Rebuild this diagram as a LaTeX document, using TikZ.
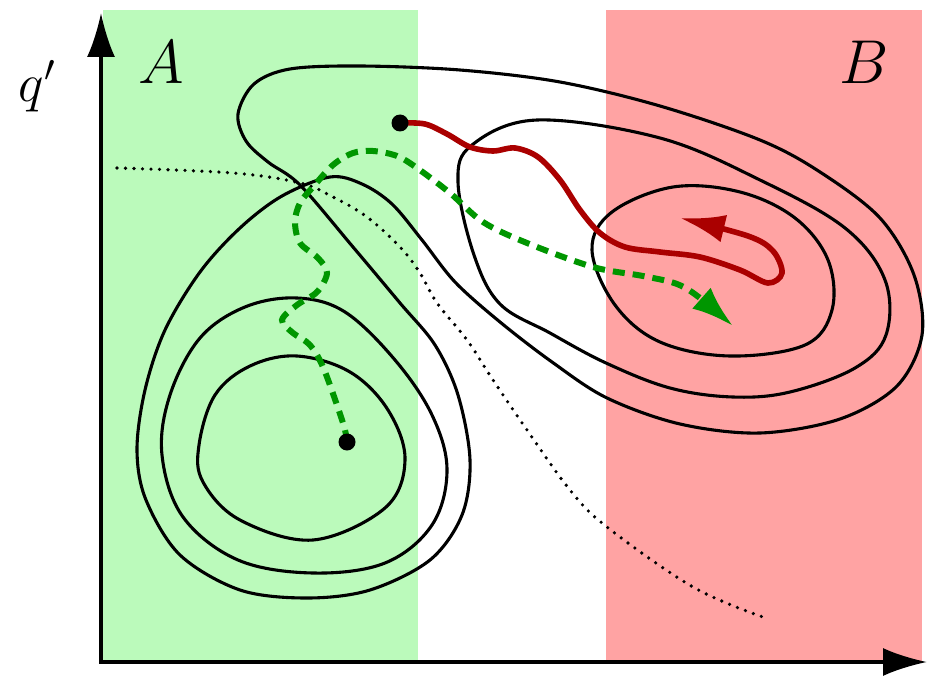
\RequirePackage{fix-cm}
\documentclass[tikz,border=0pt]{standalone}
\usetikzlibrary{arrows.meta}
\definecolor{basingreen}{RGB}{187,250,187}
\definecolor{basinred}{RGB}{255,163,163}
\definecolor{trajred}{RGB}{170,0,0}
\definecolor{trajgreen}{RGB}{0,150,0}
\tikzset{
	level/.style={draw=black, line width=3.1pt, line join=round},
	axis/.style={-{Latex[length=44pt, width=28pt]}, line width=3.2pt},
	separatrix/.style={line width=3.6pt, line cap=round, dash pattern=on 0pt off 8.5pt},
	reactive/.style={-{Latex[length=45pt, width=28pt]}, draw=trajred, line width=5.6pt, line cap=round},
	nonreactive/.style={-{Latex[length=42pt, width=28pt]}, draw=trajgreen, line width=6pt, dash pattern=on 12pt off 8pt},
	endpt/.style={circle, fill=black, inner sep=0pt, minimum size=17pt},
	biglabel/.style={font=\fontsize{62}{70}\selectfont, inner sep=0pt},
}

\begin{document}
\begin{tikzpicture}[x=1pt, y=-1pt]
	\useasboundingbox (0,0) rectangle (928,679);
	% basins A and B
	\fill[basingreen] (103,10) rectangle (418,662);
	\fill[basinred] (606,10) rectangle (922,662);
	% axes
	\coordinate (origin) at (101,663.5);
	\coordinate (ytop) at (101,13);
	\coordinate (xend) at (927,662);
	\draw[axis] (origin) -- (ytop);
	\draw[axis] (99.5,662) -- (xend);
	\node[biglabel] (labA) at (161,62) {$A$};
	\node[biglabel] (labB) at (864,62) {$B$};
	\node[biglabel, font=\fontsize{54}{60}\selectfont] (labq) at (37,86) {$q'$};
	% level sets
	\draw[level] plot[smooth cycle, tension=0.6] coordinates {(297,356) (350,372) (388,410) (405,460) (385,508) (313,540) (240,520) (203,482) (199,445) (215,395) (250,366)};
	\draw[level] plot[smooth cycle, tension=0.6] coordinates {(297,298) (345,312) (395,360) (432,415) (447,470) (432,525) (385,563) (313,573) (238,560) (183,517) (162,455) (170,395) (200,338) (245,307)};
	\draw[level] plot[smooth cycle, tension=0.6] coordinates {(592,250) (612,212) (673,187) (740,192) (795,218) (828,260) (832,310) (805,345) (730,356) (660,342) (615,305)};
	\draw[level] plot[smooth cycle, tension=0.6] coordinates {(458,182) (472,145) (537,120) (660,138) (760,180) (845,228) (885,280) (886,335) (855,368) (790,392) (733,397) (670,388) (606,363) (550,333) (500,304) (474,255)};
	\draw[level] plot[smooth cycle, tension=0.55] coordinates {(330,177) (362,184) (392,204) (422,240) (455,282) (500,322) (552,362) (607,398) (680,424) (760,433) (840,419) (897,386) (922,335) (914,275) (880,218) (820,172) (760,140) (660,106) (560,82) (460,70) (360,66) (290,69) (254,84) (238,114) (246,141) (268,162) (300,185) (353,247) (400,303) (435,345) (458,395) (470,460) (462,515) (430,560) (370,590) (307,598) (240,590) (180,555) (146,500) (137,450) (145,390) (165,330) (200,272) (240,228) (282,196)};
	% dividing surface
	\draw[separatrix] plot[smooth, tension=0.6] coordinates {(117,168) (233,173) (300,183) (333,197) (367,217) (400,247) (420,273) (437,303) (467,340) (493,380) (527,430) (570,490) (607,527) (693,587) (763,617)};
	% trajectories
	\coordinate (startA) at (347,442);
	\coordinate (startB) at (400,123);
	\draw[nonreactive] plot[smooth, tension=0.55] coordinates {(startA) (345,430) (338,408) (323,367) (310,345) (293,333) (282,320) (297,305) (317,292) (327,273) (318,258) (300,243) (295,222) (300,203) (313,187) (333,165) (353,153) (373,151) (397,156) (417,168) (450,193) (483,222) (527,243) (593,267) (643,276) (677,284) (700,298) (733,326)};
	\draw[reactive] plot[smooth, tension=0.55] coordinates {(startB) (425,124) (447,134) (470,147) (493,151) (515,148) (538,157) (560,180) (580,210) (600,233) (625,247) (660,252) (700,257) (740,270) (768,283) (782,273) (773,251) (748,236) (680,218)};
	\node[endpt] (dotA) at (startA) {};
	\node[endpt] (dotB) at (startB) {};
\end{tikzpicture}
\end{document}
